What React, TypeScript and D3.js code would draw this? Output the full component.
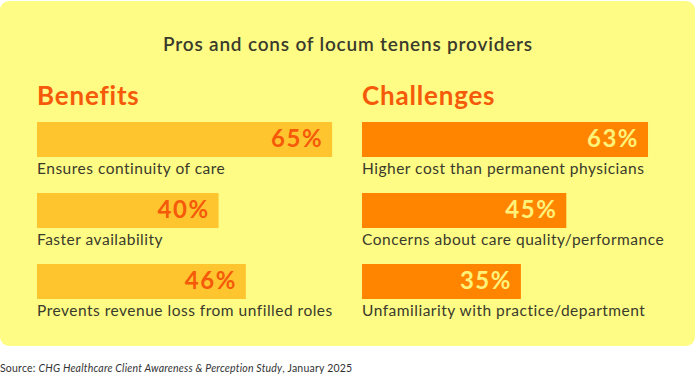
import React from "react";
import * as d3 from "d3";

const benefitLabels = ["Ensures continuity of care", "Faster availability", "Prevents revenue loss from unfilled roles"];
const benefitValues = [65, 40, 46];
const challengeLabels = ["Higher cost than permanent physicians", "Concerns about care quality/performance", "Unfamiliarity with practice/department"];
const challengeValues = [63, 45, 35];

const W = 696, H = 377;
const FONT = "Lato, 'Open Sans', sans-serif";

function Group({ x0, title, labels, values, barColor, textColor }: any) {
  const xs = d3.scaleLinear().domain([0, 100]).range([0, 454]);
  return (
    <g>
      <text x={x0} y={105} fill="#F55A0A" fontSize={26} fontWeight={700} fontFamily={FONT} letterSpacing={0.8}>{title}</text>
      {labels.map((l: string, i: number) => {
        const y = 122 + i * 71;
        const w = xs(values[i]);
        return (
          <g key={l}>
            <rect x={x0} y={y} width={w} height={35} fill={barColor} />
            <text x={x0 + w - 9} y={y + 25} textAnchor="end" fill={textColor} fontSize={24} fontWeight={700} fontFamily={FONT} letterSpacing={1.5}>{values[i]}%</text>
            <text x={x0} y={y + 52} fill="#3A3A2C" fontSize={15.5} fontFamily={FONT} letterSpacing={0.5}>{l}</text>
          </g>
        );
      })}
    </g>
  );
}

export default function App() {
  React.useEffect(() => { document.body.style.margin = "0"; }, []);
  return (
    <svg width={W} height={H} style={{ display: "block", background: "#fff" }}>
      <rect x={0} y={1} width={695} height={345} rx={9} fill="#FEFC84" />
      <text x={348} y={51} textAnchor="middle" fill="#3A3A2C" fontSize={19} fontWeight={600} fontFamily={FONT} letterSpacing={0.8}>Pros and cons of locum tenens providers</text>
      <Group x0={37} title="Benefits" labels={benefitLabels} values={benefitValues} barColor="#FFC52E" textColor="#F55A0A" />
      <Group x0={362} title="Challenges" labels={challengeLabels} values={challengeValues} barColor="#FF8500" textColor="#FFF27A" />
      <text x={0} y={372} fill="#333" fontSize={10.5} fontFamily={FONT} letterSpacing={0.2}>
        Source: <tspan fontStyle="italic">CHG Healthcare Client Awareness &amp; Perception Study</tspan>, January 2025
      </text>
    </svg>
  );
}
